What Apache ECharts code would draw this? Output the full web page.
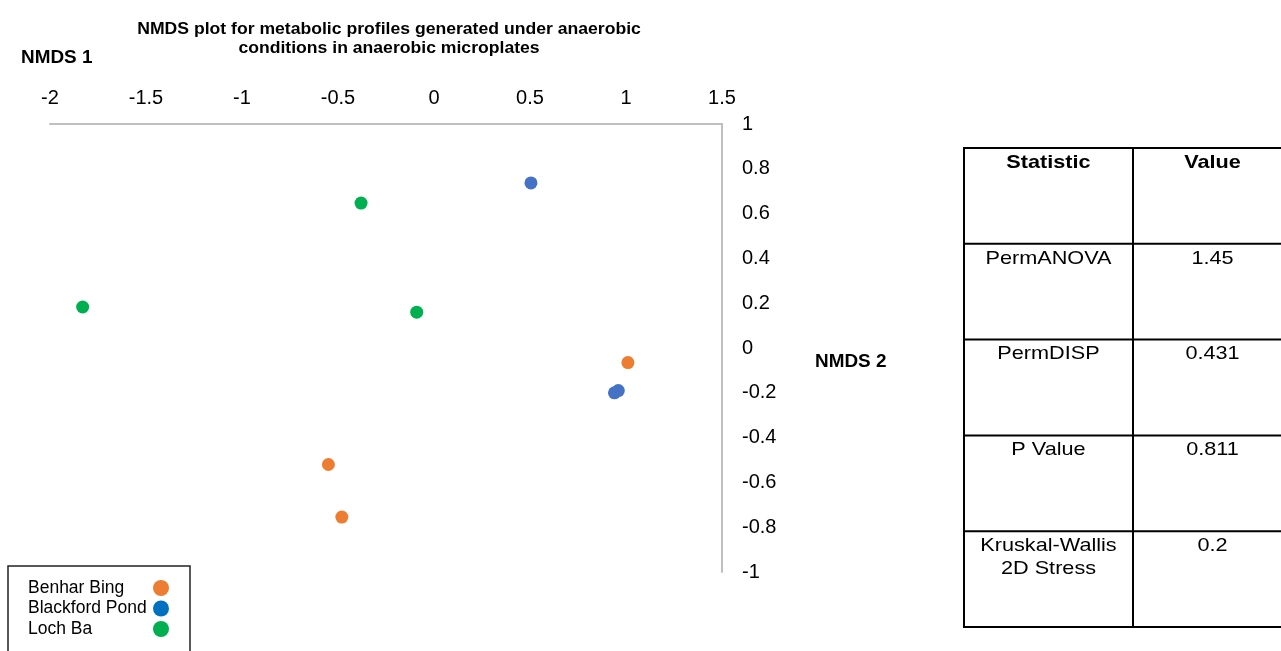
<!DOCTYPE html>
<html>
<head>
<meta charset="utf-8">
<script src="https://cdn.jsdelivr.net/npm/echarts@6/dist/echarts.min.js"></script>
<style>
html,body{margin:0;padding:0;background:#fff;}
#c{width:1281px;height:651px;}
</style>
</head>
<body>
<div id="c"></div>
<script>
// ---- data ----
const seriesNames = ['Benhar Bing', 'Blackford Pond', 'Loch Ba'];
const benharBing = [[1.01, -0.065], [-0.55, -0.52], [-0.48, -0.755]];
const blackfordPond = [[0.505, 0.737], [0.96, -0.19], [0.94, -0.2]];
const lochBa = [[-1.83, 0.183], [-0.38, 0.647], [-0.09, 0.16]];
const xTicks = {min: -2, max: 1.5, interval: 0.5};
const yTicks = {min: -1, max: 1, interval: 0.2};
const tableRows = [
  ['Statistic', 'Value'],
  ['PermANOVA', '1.45'],
  ['PermDISP', '0.431'],
  ['P Value', '0.811'],
  ['Kruskal-Wallis\n2D Stress', '0.2']
];

const pointColors = ['#ED7D31', '#4472C4', '#00B050'];
const legendColors = ['#ED7D31', '#0070C0', '#00B050'];
const FONT = '"Liberation Sans", Arial, sans-serif';

const chart = echarts.init(document.getElementById('c'), null, {renderer: 'canvas'});

// table graphics
const tX0 = 964, tX1 = 1133, tX2 = 1292, tY0 = 148, rowH = 95.8;
const tableGraphics = [];
tableGraphics.push({type: 'rect', shape: {x: tX0, y: tY0, width: tX2 - tX0, height: rowH * tableRows.length},
  style: {fill: '#fff', stroke: '#000', lineWidth: 2}});
for (let i = 1; i < tableRows.length; i++) {
  tableGraphics.push({type: 'line', shape: {x1: tX0, y1: tY0 + rowH * i, x2: tX2, y2: tY0 + rowH * i},
    style: {stroke: '#000', lineWidth: 2}});
}
tableGraphics.push({type: 'line', shape: {x1: tX1, y1: tY0, x2: tX1, y2: tY0 + rowH * tableRows.length},
  style: {stroke: '#000', lineWidth: 2}});
tableRows.forEach((r, i) => {
  [0, 1].forEach(j => {
    const cx = j === 0 ? (tX0 + tX1) / 2 : (tX1 + tX2) / 2;
    tableGraphics.push({type: 'text', x: cx, y: tY0 + rowH * i + 3, scaleX: 1.14,
      style: {text: r[j], fill: '#000', font: (i === 0 ? 'bold ' : '') + '19px ' + FONT,
        align: 'center', verticalAlign: 'top', lineHeight: 23}});
  });
});

const option = {
  backgroundColor: '#fff',
  animation: false,
  textStyle: {fontFamily: FONT},
  grid: {left: 50, right: 559, top: 124, bottom: 79, containLabel: false},
  xAxis: {
    type: 'value', position: 'top', min: xTicks.min, max: xTicks.max, interval: xTicks.interval,
    axisLine: {show: true, onZero: false, lineStyle: {color: '#bfbfbf', width: 2}},
    axisTick: {show: false}, splitLine: {show: false},
    axisLabel: {margin: 16, color: '#000', fontSize: 20, fontFamily: FONT}
  },
  yAxis: {
    type: 'value', position: 'right', min: yTicks.min, max: yTicks.max, interval: yTicks.interval,
    axisLine: {show: true, onZero: false, lineStyle: {color: '#bfbfbf', width: 2}},
    axisTick: {show: false}, splitLine: {show: false},
    axisLabel: {margin: 20, color: '#000', fontSize: 20, fontFamily: FONT, align: 'left'}
  },
  legend: {
    orient: 'vertical', left: 23, top: 574, align: 'right', itemGap: 2.5,
    itemWidth: 16, itemHeight: 16, icon: 'circle',
    formatter: '{a|{name}}',
    textStyle: {fontSize: 17.5, color: '#000', fontFamily: FONT,
      rich: {a: {width: 120, align: 'left', fontSize: 17.5, fontFamily: FONT, color: '#000'}}},
    data: seriesNames.map((n, i) => ({name: n, itemStyle: {color: legendColors[i]}}))
  },
  series: [benharBing, blackfordPond, lochBa].map((d, i) => ({
    name: seriesNames[i], type: 'scatter', data: d, symbolSize: 13,
    itemStyle: {color: pointColors[i], opacity: 1}
  })),
  graphic: [
    {type: 'text', x: 389, y: 39, scaleX: 1.1, style: {text: 'NMDS plot for metabolic profiles generated under anaerobic\nconditions in anaerobic microplates',
      font: 'bold 16px ' + FONT, fill: '#000', align: 'center', verticalAlign: 'middle', lineHeight: 19}},
    {type: 'text', x: 21, y: 49, scaleX: 1.05, style: {text: 'NMDS 1', font: 'bold 18px ' + FONT, fill: '#000'}},
    {type: 'text', x: 815, y: 353, scaleX: 1.05, style: {text: 'NMDS 2', font: 'bold 18px ' + FONT, fill: '#000'}},
    {type: 'rect', shape: {x: 8, y: 566, width: 182, height: 90}, style: {fill: 'none', stroke: '#222', lineWidth: 1.5}, z: 10}
  ].concat(tableGraphics)
};
chart.setOption(option);
</script>
</body>
</html>
